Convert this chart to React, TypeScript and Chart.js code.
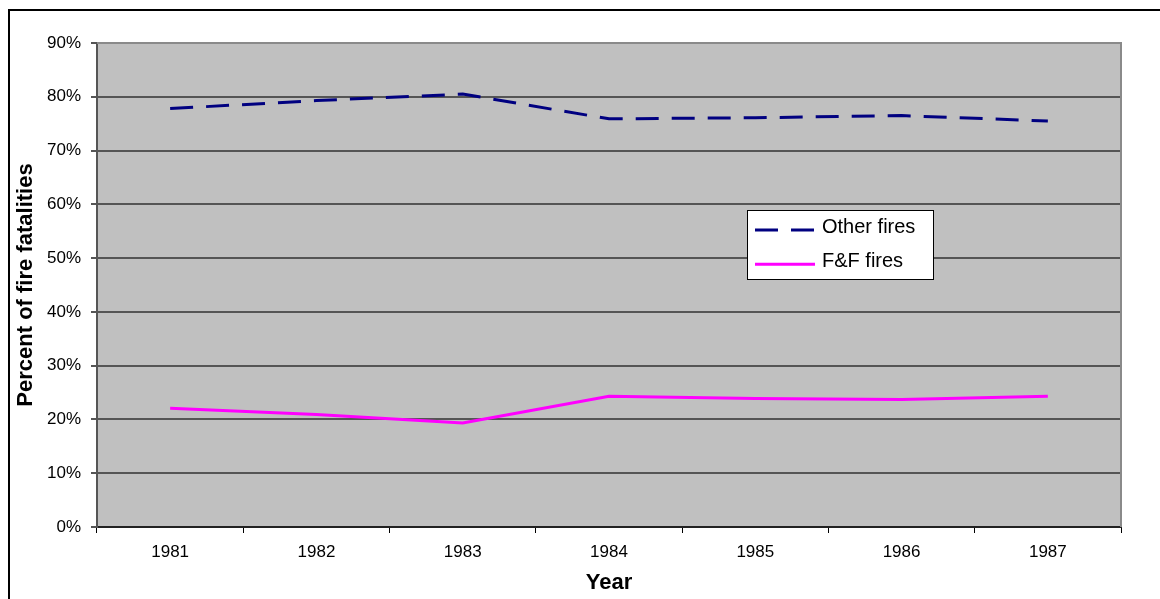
import { useEffect, useRef } from 'react';
import { Chart, registerables } from 'chart.js';

Chart.register(...registerables);

const years = ['1981', '1982', '1983', '1984', '1985', '1986', '1987'];
const otherFires = [77.8, 79.3, 80.5, 75.9, 76.1, 76.5, 75.5];
const ffFires = [22.1, 20.9, 19.35, 24.3, 23.9, 23.7, 24.3];
const yMin = 0;
const yMax = 90;
const yStep = 10;

const FONT = "'Liberation Sans', Arial, sans-serif";

const plotBg = {
  id: 'plotBg',
  beforeDraw(chart: any) {
    const { ctx, chartArea: a } = chart;
    ctx.save();
    ctx.fillStyle = '#C0C0C0';
    ctx.fillRect(a.left, a.top, a.right - a.left, a.bottom - a.top);
    ctx.restore();
  },
  beforeDatasetsDraw(chart: any) {
    const { ctx, chartArea: a } = chart;
    ctx.save();
    ctx.strokeStyle = '#8a8a8a';
    ctx.lineWidth = 2;
    ctx.beginPath();
    ctx.moveTo(a.left, a.top);
    ctx.lineTo(a.right, a.top);
    ctx.lineTo(a.right, a.bottom);
    ctx.stroke();
    ctx.restore();
  },
  afterDraw(chart: any) {
    const { ctx, width, height } = chart;
    ctx.save();
    ctx.fillStyle = '#000';
    ctx.fillRect(0, 1, width, 2);
    ctx.fillRect(0, 1, 2, height);
    ctx.restore();
  },
};

const boxLegend = {
  id: 'boxLegend',
  afterDraw(chart: any) {
    const { ctx } = chart;
    const bx = 739, by = 202, bw = 186, bh = 69;
    ctx.save();
    ctx.fillStyle = '#fff';
    ctx.fillRect(bx, by, bw, bh);
    ctx.strokeStyle = '#000';
    ctx.lineWidth = 1;
    ctx.strokeRect(bx + 0.5, by + 0.5, bw, bh);
    chart.data.datasets.forEach((ds: any, i: number) => {
      const ly = by + 20 + i * 34.3;
      ctx.strokeStyle = ds.borderColor;
      ctx.lineWidth = ds.borderWidth;
      ctx.setLineDash(ds.borderDash || []);
      ctx.beginPath();
      ctx.moveTo(bx + 8, ly);
      ctx.lineTo(bx + 68, ly);
      ctx.stroke();
      ctx.setLineDash([]);
      ctx.fillStyle = '#000';
      ctx.font = `20px ${FONT}`;
      ctx.textBaseline = 'middle';
      ctx.textAlign = 'left';
      ctx.fillText(ds.label, bx + 75, ly - 3);
    });
    ctx.restore();
  },
};

export default function App() {
  const ref = useRef<HTMLCanvasElement | null>(null);
  useEffect(() => {
    if (!ref.current) return;
    const chart = new Chart(ref.current, {
      type: 'line',
      data: {
        labels: years,
        datasets: [
          {
            label: 'Other fires',
            data: otherFires,
            borderColor: '#000080',
            backgroundColor: '#000080',
            borderWidth: 3,
            borderDash: [23, 13],
            pointRadius: 0,
            tension: 0,
            fill: false,
          },
          {
            label: 'F&F fires',
            data: ffFires,
            borderColor: '#FF00FF',
            backgroundColor: '#FF00FF',
            borderWidth: 3,
            pointRadius: 0,
            tension: 0,
            fill: false,
          },
        ],
      },
      options: {
        responsive: false,
        animation: false,
        devicePixelRatio: 1,
        layout: { padding: { top: 35, right: 39, bottom: 0, left: 0 } },
        plugins: {
          legend: { display: false },
          tooltip: { enabled: false },
        },
        scales: {
          x: {
            offset: true,
            grid: {
              offset: true,
              drawOnChartArea: false,
              drawTicks: true,
              tickLength: 6,
              color: '#000',
              lineWidth: 1,
            },
            border: { color: '#222', width: 2 },
            ticks: {
              color: '#000',
              font: { family: FONT, size: 17 },
              padding: 9,
              maxRotation: 0,
            },
            title: {
              display: true,
              text: 'Year',
              color: '#000',
              font: { family: FONT, size: 22, weight: 'bold' },
              padding: { top: 0, bottom: 3 },
            },
            afterFit(s: any) {
              s.height = 72;
            },
          },
          y: {
            min: yMin,
            max: yMax,
            grid: {
              color: '#555',
              lineWidth: 2,
              drawTicks: true,
              tickLength: 6,
            },
            border: { color: '#555', width: 2 },
            ticks: {
              stepSize: yStep,
              color: '#000',
              font: { family: FONT, size: 17 },
              padding: 10,
              callback: (v: any) => `${v}%`,
            },
            title: {
              display: true,
              text: 'Percent of fire fatalities',
              color: '#000',
              font: { family: FONT, size: 22, weight: 'bold' },
              padding: { top: 5, bottom: 0 },
            },
            afterFit(s: any) {
              s.width = 89;
            },
          },
        },
      },
      plugins: [plotBg, boxLegend],
    });
    return () => chart.destroy();
  }, []);
  return (
    <div style={{ position: 'fixed', left: 8, top: 8, width: 1152, height: 591 }}>
      <canvas ref={ref} width={1152} height={591} style={{ display: 'block' }} />
    </div>
  );
}
